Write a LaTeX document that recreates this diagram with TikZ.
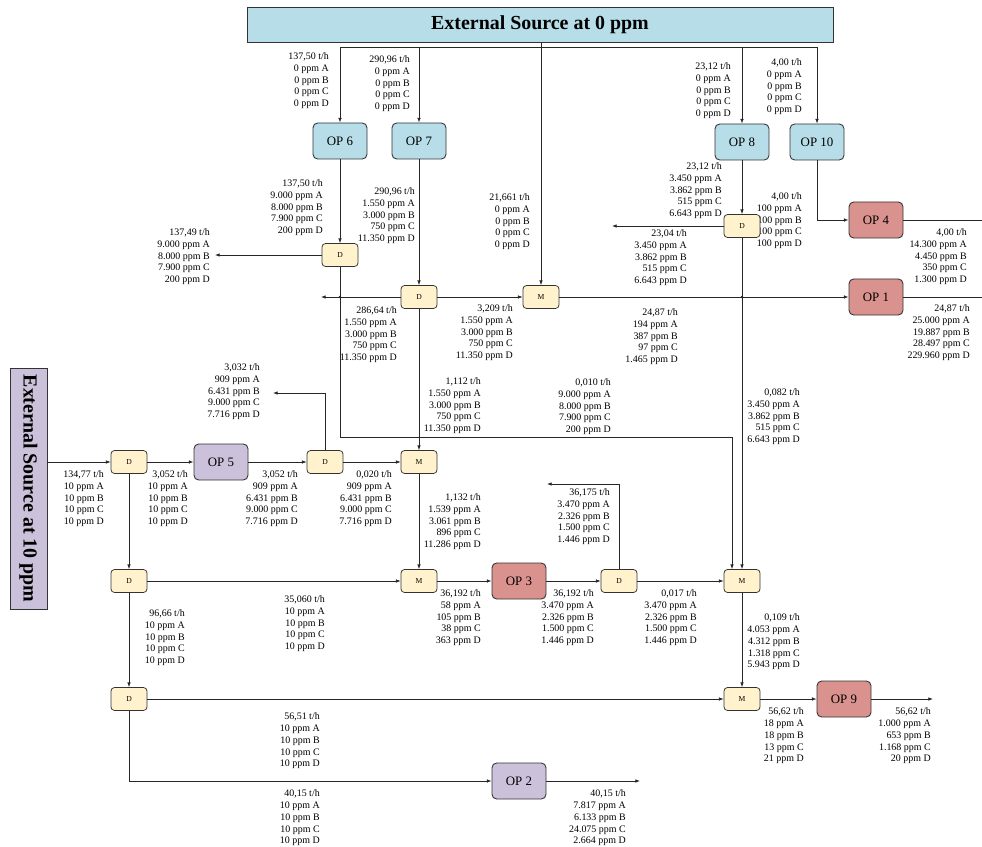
\documentclass[tikz,border=0pt]{standalone}
\usepackage{fontspec}
\usepackage{graphicx}
\setmainfont{Liberation Serif}
\usetikzlibrary{arrows.meta}

\definecolor{opblue}{RGB}{183,222,232}
\definecolor{opred}{RGB}{217,146,142}
\definecolor{oplila}{RGB}{204,193,218}
\definecolor{dmyel}{RGB}{255,242,204}

\newcommand{\flw}[5]{#1 t/h\\#2 ppm A\\#3 ppm B\\#4 ppm C\\#5 ppm D}

\tikzset{
  op/.style={draw=black!80, line width=0.75pt, rounded corners=4pt, minimum width=1.62cm, minimum height=1.08cm, inner sep=0pt, font=\fontsize{11}{13}\selectfont},
  dm/.style={draw=black!80, line width=0.65pt, fill=dmyel, rounded corners=3pt, minimum width=1.08cm, minimum height=0.69cm, inner sep=0pt, font=\fontsize{6.5}{7}\selectfont},
  src/.style={draw=black!80, line width=0.75pt, inner sep=0pt, font=\fontsize{17}{20}\selectfont\bfseries},
  lbl/.style={align=right, anchor=north east, inner sep=0pt, font=\fontsize{8.5}{10.2}\selectfont},
  arr/.style={-{Latex[length=4pt,width=3pt]}, draw=black!85, line width=0.6pt},
  ln/.style={draw=black!85, line width=0.6pt}
}

\begin{document}
\begin{tikzpicture}[x=0.03cm,y=-0.03cm]
\useasboundingbox (0,0) rectangle (982,847);

\node[lbl] (t1) at (329,52) {\flw{137,50}{0}{0}{0}{0}};
\node[lbl] (t2) at (410,55) {\flw{290,96}{0}{0}{0}{0}};
\node[lbl] (t3) at (731,62) {\flw{23,12}{0}{0}{0}{0}};
\node[lbl] (t4) at (802,58) {\flw{4,00}{0}{0}{0}{0}};
\node[lbl] (t5) at (323,179) {\flw{137,50}{9.000}{8.000}{7.900}{200}};
\node[lbl] (t6) at (415,187) {\flw{290,96}{1.550}{3.000}{750}{11.350}};
\node[lbl] (t7) at (530,193) {\flw{21,661}{0}{0}{0}{0}};
\node[lbl] (t8) at (210,228) {\flw{137,49}{9.000}{8.000}{7.900}{200}};
\node[lbl] (t9) at (397,306) {\flw{286,64}{1.550}{3.000}{750}{11.350}};
\node[lbl] (t10) at (513,304) {\flw{3,209}{1.550}{3.000}{750}{11.350}};
\node[lbl] (t11) at (722,162) {\flw{23,12}{3.450}{3.862}{515}{6.643}};
\node[lbl] (t12) at (802,192) {\flw{4,00}{100}{100}{100}{100}};
\node[lbl] (t13) at (687,229) {\flw{23,04}{3.450}{3.862}{515}{6.643}};
\node[lbl] (t14) at (967,228) {\flw{4,00}{14.300}{4.450}{350}{1.300}};
\node[lbl] (t15) at (678,308) {\flw{24,87}{194}{387}{97}{1.465}};
\node[lbl] (t16) at (970,304) {\flw{24,87}{25.000}{19.887}{28.497}{229.960}};
\node[lbl] (t17) at (481,377) {\flw{1,112}{1.550}{3.000}{750}{11.350}};
\node[lbl] (t18) at (611,378) {\flw{0,010}{9.000}{8.000}{7.900}{200}};
\node[lbl] (t19) at (800,388) {\flw{0,082}{3.450}{3.862}{515}{6.643}};
\node[lbl] (t20) at (260,363) {\flw{3,032}{909}{6.431}{9.000}{7.716}};
\node[lbl] (t21) at (104,470) {\flw{134,77}{10}{10}{10}{10}};
\node[lbl] (t22) at (188,470) {\flw{3,052}{10}{10}{10}{10}};
\node[lbl] (t23) at (298,470) {\flw{3,052}{909}{6.431}{9.000}{7.716}};
\node[lbl] (t24) at (392,470) {\flw{0,020}{909}{6.431}{9.000}{7.716}};
\node[lbl] (t25) at (481,493) {\flw{1,132}{1.539}{3.061}{896}{11.286}};
\node[lbl] (t26) at (610,488) {\flw{36,175}{3.470}{2.326}{1.500}{1.446}};
\node[lbl] (t27) at (185,609) {\flw{96,66}{10}{10}{10}{10}};
\node[lbl] (t28) at (325,595) {\flw{35,060}{10}{10}{10}{10}};
\node[lbl] (t29) at (481,589) {\flw{36,192}{58}{105}{38}{363}};
\node[lbl] (t30) at (594,589) {\flw{36,192}{3.470}{2.326}{1.500}{1.446}};
\node[lbl] (t31) at (697,589) {\flw{0,017}{3.470}{2.326}{1.500}{1.446}};
\node[lbl] (t32) at (800,613) {\flw{0,109}{4.053}{4.312}{1.318}{5.943}};
\node[lbl] (t33) at (320,712) {\flw{56,51}{10}{10}{10}{10}};
\node[lbl] (t34) at (804,707) {\flw{56,62}{18}{18}{13}{21}};
\node[lbl] (t35) at (931,707) {\flw{56,62}{1.000}{653}{1.168}{20}};
\node[lbl] (t36) at (320,789) {\flw{40,15}{10}{10}{10}{10}};
\node[lbl] (t37) at (626,789) {\flw{40,15}{7.817}{6.133}{24.075}{2.664}};

\node[src, fill=opblue, minimum width=17.58cm, minimum height=1.05cm] (src0) at (540,25) {External Source at 0 ppm};
\node[src, fill=oplila, minimum width=1.11cm, minimum height=7.23cm] (src10) at (28.5,488.5) {\rotatebox{-90}{External Source at 10 ppm}};

\node[op, fill=opblue] (op6) at (340,141) {OP 6};
\node[op, fill=opblue] (op7) at (419,141) {OP 7};
\node[op, fill=opblue] (op8) at (742,142) {OP 8};
\node[op, fill=opblue] (op10) at (817,142) {OP 10};
\node[op, fill=opred] (op4) at (876,220) {OP 4};
\node[op, fill=opred] (op1) at (876,297) {OP 1};
\node[op, fill=oplila] (op5) at (221,462) {OP 5};
\node[op, fill=opred] (op3) at (519,581) {OP 3};
\node[op, fill=opred] (op9) at (844,699) {OP 9};
\node[op, fill=oplila] (op2) at (519,781) {OP 2};

\node[dm] (dA) at (340,255) {D};
\node[dm] (dB) at (419,297) {D};
\node[dm] (m1) at (541,297) {M};
\node[dm] (dC) at (742,226) {D};
\node[dm] (d1) at (129,462) {D};
\node[dm] (dD) at (325,462) {D};
\node[dm] (m2) at (419,462) {M};
\node[dm] (d2) at (129,581) {D};
\node[dm] (m3) at (419,581) {M};
\node[dm] (dE) at (619,581) {D};
\node[dm] (m5) at (742,581) {M};
\node[dm] (d3) at (129,699) {D};
\node[dm] (m6) at (742,699) {M};

\coordinate (bus) at (541,47);
\coordinate (lp) at (732,437);
\coordinate (outA) at (215,255);
\coordinate (outB) at (321,297);
\coordinate (outC) at (612,226);
\coordinate (outD) at (273,393);
\coordinate (outE) at (547,484);
\coordinate (outF) at (933,699);
\coordinate (outG) at (640,781);
\coordinate (outH) at (992,220);
\coordinate (outI) at (992,297);

\draw[ln] (op6 |- bus) -- (op10 |- bus);
\draw[arr] (op6 |- bus) -- (op6);
\draw[arr] (op7 |- bus) -- (op7);
\draw[arr] (op8 |- bus) -- (op8);
\draw[arr] (op10 |- bus) -- (op10);
\draw[arr] (m1 |- src0.south) -- (m1);

\draw[arr] (op6) -- (dA);
\draw[arr] (dA) -- (outA);
\draw[arr] (dA) |- (lp) -- (lp |- m5.north);
\draw[arr] (op7) -- (dB);
\draw[arr] (dB) -- (outB);
\draw[arr] (dB) -- (m1);
\draw[arr] (dB) -- (m2);
\draw[arr] (m1) -- (op1);
\draw[arr] (op1) -- (outI);
\draw[arr] (op10) |- (op4);
\draw[arr] (op4) -- (outH);
\draw[arr] (op8) -- (dC);
\draw[arr] (dC) -- (outC);
\draw[arr] (dC) -- (m5);
\fill[black!85] (dA |- dB) circle (1.1pt);
\fill[black!85] (dC |- m1) circle (1.1pt);

\draw[arr] (src10.east |- d1) -- (d1);
\draw[arr] (d1) -- (op5);
\draw[arr] (op5) -- (dD);
\draw[arr] (dD) -- (m2);
\draw[arr] (dD) |- (outD);
\draw[arr] (m2) -- (m3);

\draw[arr] (d1) -- (d2);
\draw[arr] (d2) -- (m3);
\draw[arr] (m3) -- (op3);
\draw[arr] (op3) -- (dE);
\draw[arr] (dE) -- (m5);
\draw[arr] (dE) |- (outE);
\draw[arr] (m5) -- (m6);

\draw[arr] (d2) -- (d3);
\draw[arr] (d3) -- (m6);
\draw[arr] (m6) -- (op9);
\draw[arr] (op9) -- (outF);
\draw[arr] (d3) |- (op2);
\draw[arr] (op2) -- (outG);

\end{tikzpicture}
\end{document}
